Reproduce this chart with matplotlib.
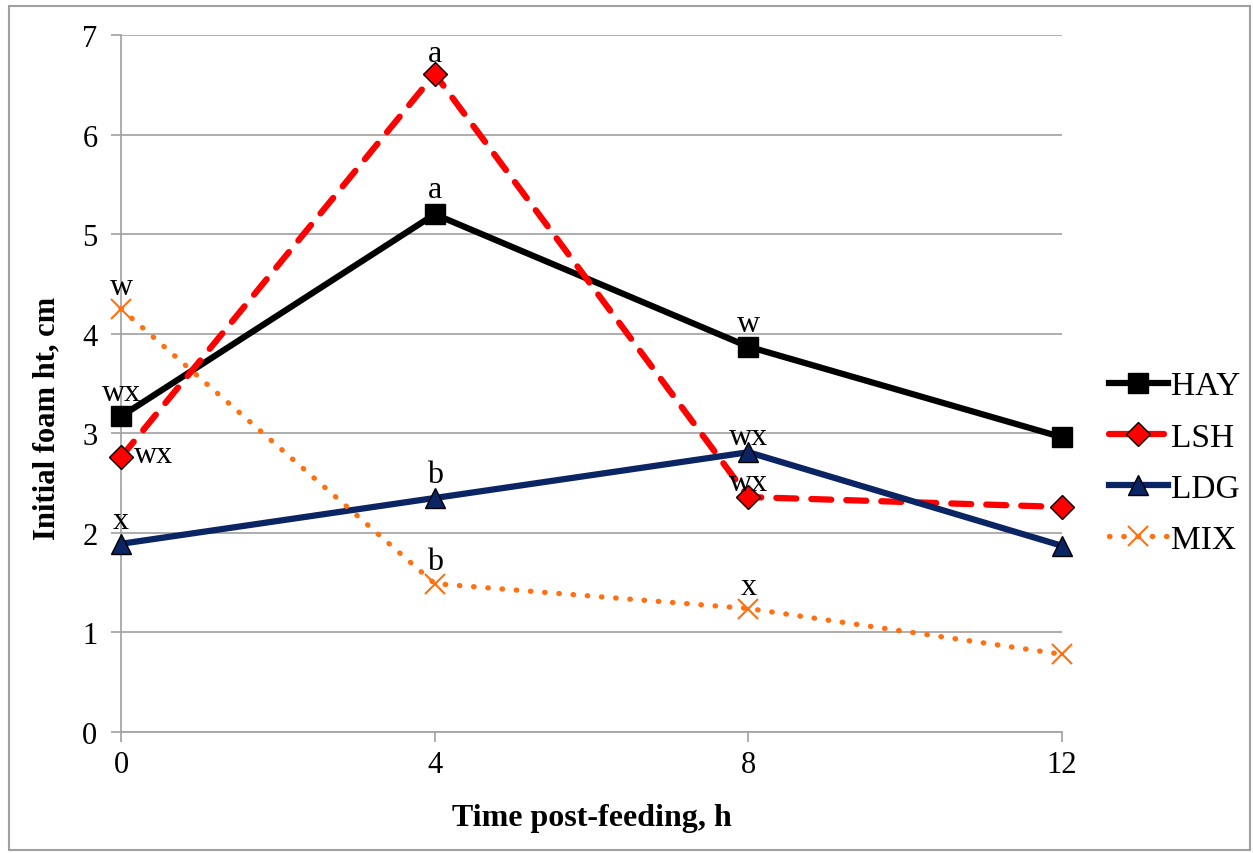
import matplotlib.pyplot as plt
from matplotlib.patches import Rectangle

plt.rcParams['font.family'] = ['Liberation Serif', 'DejaVu Serif']

hours = [0, 4, 8, 12]
hay = [3.17, 5.20, 3.87, 2.96]
lsh = [2.76, 6.61, 2.36, 2.26]
ldg = [1.89, 2.35, 2.81, 1.87]
mix = [4.25, 1.49, 1.24, 0.78]

# letters over points: (x, y, text, dx px, baseline dy px)
letters = [
    (0, 3.17, "wx", 0, 16), (4, 5.20, "a", 0, 17), (8, 3.87, "w", 0, 16),
    (4, 6.61, "a", 0, 13), (0, 2.76, "wx", 32, -5), (8, 2.36, "wx", 0, 7),
    (0, 1.89, "x", 0, 16), (4, 2.35, "b", 0, 16), (8, 2.81, "wx", 0, 8),
    (0, 4.25, "w", 0, 15), (4, 1.49, "b", 0, 15), (8, 1.24, "x", 0, 15),
]

fig = plt.figure(figsize=(12.53, 8.54), dpi=100)
ax = fig.add_axes([0.0966, 0.1417, 0.7510, 0.8161])
fig.patches.append(Rectangle((9 / 1253, 3 / 854), 1241 / 1253, 844 / 854,
                             transform=fig.transFigure, fill=False,
                             edgecolor='#a0a0a0', linewidth=1.5))

ax.plot(hours, hay, color='black', lw=4.5, marker='s', ms=15, mfc='black', mec='black',
        label='HAY', zorder=4)
ax.plot(hours, lsh, color='#ff0000', lw=4.5, ls=(0, (3.2, 2.4)), dash_capstyle='round',
        marker='D', ms=12, mfc='#ff0000', mec='black', mew=1, label='LSH', zorder=4)
ax.plot(hours, ldg, color='#0a2464', lw=4.5, marker='^', ms=15, mfc='#0a2464',
        mec='black', mew=1, label='LDG', zorder=4)
ax.plot(hours, mix, color='#ff7010', lw=3.8, ls=(0, (0.1, 2.6)), dash_capstyle='round',
        marker='x', ms=14, mew=1.5, label='MIX', zorder=4)

for x, y, t, dx, dy in letters:
    ax.annotate(t, (x, y), xytext=(dx * 0.72, dy * 0.72), textcoords='offset points',
                ha='center', va='baseline', fontsize=23, zorder=5)

ax.set_xlim(0, 12)
ax.set_ylim(0, 7)
ax.set_xticks(hours)
ax.set_yticks(range(0, 8))
ax.yaxis.grid(True, color='#a0a0a0', lw=1.2)
ax.set_axisbelow(True)
for s in ['top', 'right']:
    ax.spines[s].set_visible(False)
ax.spines['left'].set_color('#a0a0a0')
ax.spines['bottom'].set_color('#a0a0a0')
ax.spines['left'].set_linewidth(1.2)
ax.spines['bottom'].set_linewidth(1.2)
ax.tick_params(colors='#a0a0a0', labelcolor='black', labelsize=22, length=7, width=1.2)
ax.tick_params(axis='x', pad=6)
ax.tick_params(axis='y', pad=10)
ax.set_xlabel('Time post-feeding, h', fontsize=23, fontweight='bold', labelpad=17)
ax.set_ylabel('Initial foam ht, cm', fontsize=22, fontweight='bold')
ax.yaxis.set_label_coords(-0.063, 0.452)
for ln in ax.lines:
    ln.set_clip_on(False)

ax.legend(loc='center left', bbox_to_anchor=(1.036, 0.386), frameon=False, fontsize=24,
          handlelength=1.75, labelspacing=0.62, handletextpad=0.1, borderaxespad=0)

fig.savefig('out.png', dpi=100)
